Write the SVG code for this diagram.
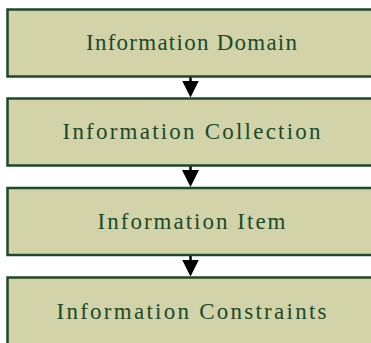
<svg xmlns="http://www.w3.org/2000/svg" width="371" height="343" viewBox="0 0 371 343">
  <style>
    .box { fill: #d3d3aa; stroke: #1d4a2b; stroke-width: 2.5; }
    .label { font-family: "Liberation Serif", "DejaVu Serif", serif; font-size: 23px; fill: #1a4a2a; text-anchor: middle; }
    .link { stroke: #000; stroke-width: 2.5; fill: none; marker-end: url(#arrow); }
  </style>
  <defs>
    <marker id="arrow" markerUnits="userSpaceOnUse" viewBox="0 0 17 17" markerWidth="17" markerHeight="17" refX="9.5" refY="8.5" orient="auto">
      <path d="M0,0 L17,8.5 L0,17 Z" fill="#000"/>
    </marker>
  </defs>
  <rect width="371" height="343" fill="#fff"/>

  <g id="connectors">
    <line class="link" x1="190.5" y1="77" x2="190.5" y2="90"/>
    <line class="link" x1="190.5" y1="166" x2="190.5" y2="179.5"/>
    <line class="link" x1="190.5" y1="255.5" x2="190.5" y2="269"/>
  </g>

  <g id="information-domain">
    <rect class="box" x="7.5" y="9.5" width="370" height="67"/>
    <text class="label" x="191.5" y="50" textLength="211" lengthAdjust="spacing">Information Domain</text>
  </g>
  <g id="information-collection">
    <rect class="box" x="7.5" y="98.5" width="370" height="67"/>
    <text class="label" x="191.5" y="139" textLength="258" lengthAdjust="spacing">Information Collection</text>
  </g>
  <g id="information-item">
    <rect class="box" x="7.5" y="188" width="370" height="67"/>
    <text class="label" x="191.5" y="228.5" textLength="188" lengthAdjust="spacing">Information Item</text>
  </g>
  <g id="information-constraints">
    <rect class="box" x="7.5" y="277.5" width="370" height="67"/>
    <text class="label" x="191.5" y="318.5" textLength="270" lengthAdjust="spacing">Information Constraints</text>
  </g>
</svg>
